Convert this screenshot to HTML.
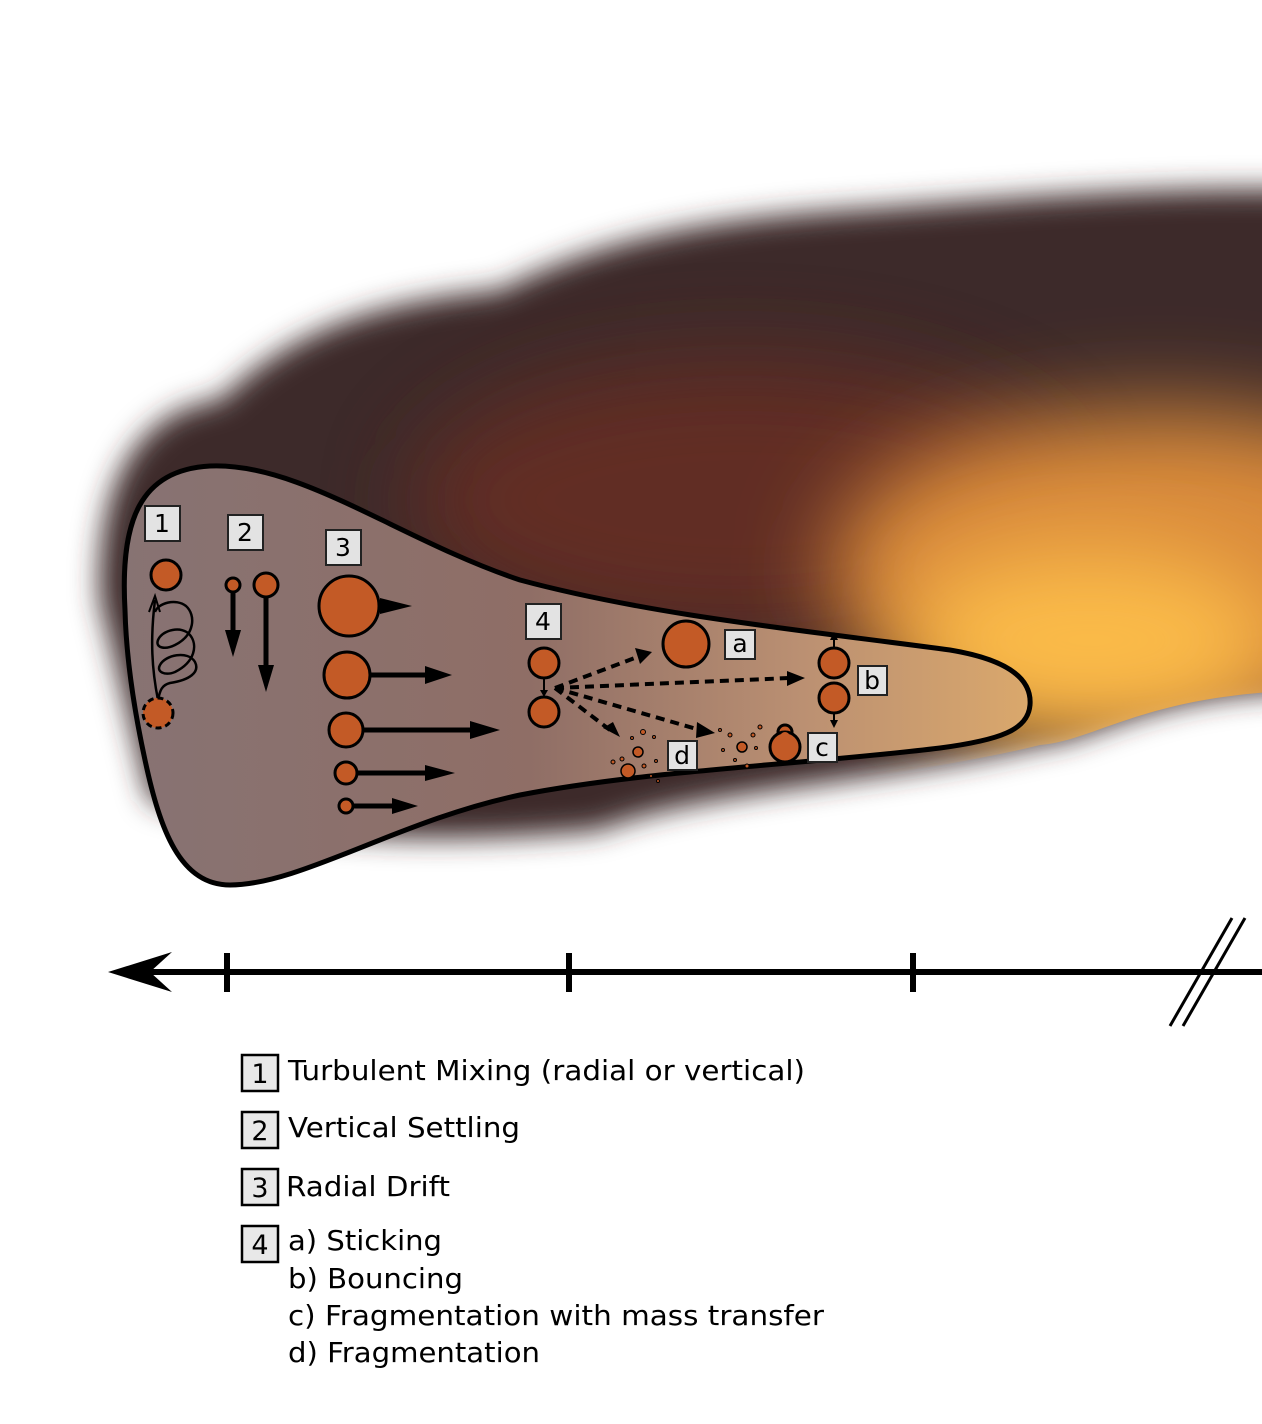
<!DOCTYPE html>
<html><head><meta charset="utf-8"><style>
html,body{margin:0;padding:0;background:#fff;width:1262px;height:1424px;overflow:hidden}
svg{display:block}
text{font-family:"DejaVu Sans","Liberation Sans",sans-serif}
</style></head><body>
<svg width="1262" height="1424" viewBox="0 0 1262 1424" xmlns="http://www.w3.org/2000/svg">
<defs>
<filter id="blur" x="-20%" y="-20%" width="140%" height="140%"><feGaussianBlur stdDeviation="14"/></filter>
<filter id="blur2" x="-50%" y="-50%" width="200%" height="200%"><feGaussianBlur stdDeviation="45"/></filter>
<linearGradient id="disk" x1="120" y1="0" x2="1030" y2="0" gradientUnits="userSpaceOnUse">
<stop offset="0" stop-color="#877373"/><stop offset="0.45" stop-color="#8f6e66"/><stop offset="0.75" stop-color="#bb9072"/><stop offset="1" stop-color="#daa86c"/>
</linearGradient>
<clipPath id="cc"><path d="M100,600 C95,480 140,410 220,400 C300,320 400,300 500,290 C600,240 700,220 850,210 C1000,200 1150,185 1330,190 L1330,690 C1150,690 1100,740 1040,745 C900,780 700,790 600,830 C500,840 300,850 150,800 Z"/></clipPath>
</defs>
<g filter="url(#blur)">
<path d="M100,600 C95,480 140,410 220,400 C300,320 400,300 500,290 C600,240 700,220 850,210 C1000,200 1150,185 1330,190 L1330,690 C1150,690 1100,740 1040,745 C900,780 700,790 600,830 C500,840 300,850 150,800 Z" fill="#3e2c2a"/>
</g>
<g clip-path="url(#cc)">
<ellipse cx="740" cy="500" rx="330" ry="140" fill="#6e2f22" opacity="0.75" filter="url(#blur2)"/>
<ellipse cx="1160" cy="570" rx="330" ry="160" fill="#d98a3a" filter="url(#blur2)"/>
<ellipse cx="1090" cy="640" rx="190" ry="90" fill="#fbbb48" filter="url(#blur2)"/>
</g>
<path d="M125,610 C120,520 140,470 210,466 C300,462 400,540 520,580 C650,615 800,630 950,650 C1010,660 1032,680 1030,705 C1028,730 1000,740 940,748 C800,765 650,770 520,795 C400,820 300,885 230,885 C180,885 160,830 145,760 C132,700 126,650 125,610 Z" fill="url(#disk)" stroke="#000" stroke-width="5"/>
<g font-size="25" text-anchor="middle">
<rect x="145" y="506" width="35" height="35" fill="#e3e3e3" stroke="#222" stroke-width="2"/><text x="162" y="532">1</text>
<rect x="228" y="515" width="35" height="35" fill="#e3e3e3" stroke="#222" stroke-width="2"/><text x="245" y="541">2</text>
<rect x="326" y="530" width="35" height="35" fill="#e3e3e3" stroke="#222" stroke-width="2"/><text x="343" y="556">3</text>
<rect x="526" y="604" width="35" height="35" fill="#e3e3e3" stroke="#222" stroke-width="2"/><text x="543" y="630">4</text>
<rect x="725" y="630" width="30" height="29" fill="#e3e3e3" stroke="#222" stroke-width="2"/><text x="740" y="652">a</text>
<rect x="858" y="666" width="29" height="29" fill="#e3e3e3" stroke="#222" stroke-width="2"/><text x="872" y="689">b</text>
<rect x="808" y="733" width="29" height="29" fill="#e3e3e3" stroke="#222" stroke-width="2"/><text x="822" y="756">c</text>
<rect x="668" y="741" width="29" height="29" fill="#e3e3e3" stroke="#222" stroke-width="2"/><text x="682" y="764">d</text>
</g>
<g fill="none" stroke="#000" stroke-width="2.5">
<path d="M158,700 C160,690 162,685 170,683 C190,680 200,672 195,662 C188,650 165,655 160,665 C156,672 165,676 175,672 C195,662 198,645 190,635 C182,625 162,630 158,640 C155,648 165,650 175,645 C195,635 196,615 186,606 C176,598 158,603 155,612"/>
<path d="M158,700 C152,670 150,640 155,600"/>
</g>
<path d="M149,612 L155,596 L160,612" fill="none" stroke="#000" stroke-width="2"/>
<g fill="#c35a26" stroke="#000" stroke-width="3">
<circle cx="166" cy="575" r="15"/>
<circle cx="158" cy="713" r="15" stroke-dasharray="6,4"/>
<circle cx="233" cy="585" r="7"/>
<circle cx="266" cy="585" r="12"/>
<circle cx="349" cy="606" r="30"/>
<circle cx="347" cy="675" r="23"/>
<circle cx="346" cy="730" r="17"/>
<circle cx="346" cy="773" r="11"/>
<circle cx="346" cy="806" r="7"/>
<circle cx="544" cy="663" r="15"/>
<circle cx="544" cy="712" r="15"/>
<circle cx="686" cy="644" r="23"/>
<circle cx="834" cy="663" r="15"/>
<circle cx="834" cy="698" r="15"/>
<circle cx="785" cy="732" r="7"/>
<circle cx="785" cy="747" r="15"/>
</g>
<circle cx="785" cy="737" r="5" fill="#c35a26"/>
<g fill="#c35a26" stroke="#000" stroke-width="1.5">
<circle cx="638" cy="752" r="5"/>
<circle cx="628" cy="771" r="7"/>
<circle cx="742" cy="747" r="5"/>
</g>
<g fill="#c35a26" stroke="#000" stroke-width="1">
<circle cx="643" cy="732" r="2.5"/><circle cx="654" cy="737" r="1.5"/><circle cx="622" cy="759" r="2"/><circle cx="613" cy="762" r="2"/><circle cx="644" cy="766" r="2"/><circle cx="651" cy="776" r="1.5"/><circle cx="656" cy="761" r="1.5"/><circle cx="632" cy="738" r="1.5"/><circle cx="658" cy="781" r="1.5"/>
<circle cx="730" cy="735" r="2"/><circle cx="753" cy="735" r="2"/><circle cx="760" cy="727" r="2"/><circle cx="747" cy="766" r="2"/><circle cx="723" cy="750" r="1.5"/><circle cx="756" cy="748" r="1.5"/><circle cx="735" cy="760" r="1.5"/><circle cx="720" cy="730" r="1.5"/>
</g>
<g stroke="#000" stroke-width="5" fill="#000">
<line x1="233" y1="592" x2="233" y2="640"/><polygon points="225,630 241,630 233,657" stroke="none"/>
<line x1="266" y1="597" x2="266" y2="675"/><polygon points="258,665 274,665 266,692" stroke="none"/>
<polygon points="380,598 380,614 412,606" stroke="none"/>
<line x1="370" y1="675" x2="435" y2="675"/><polygon points="425,666 425,684 452,675" stroke="none"/>
<line x1="363" y1="730" x2="480" y2="730"/><polygon points="470,721 470,739 500,730" stroke="none"/>
<line x1="357" y1="773" x2="435" y2="773"/><polygon points="425,765 425,781 455,773" stroke="none"/>
<line x1="353" y1="806" x2="400" y2="806"/><polygon points="392,798 392,814 418,806" stroke="none"/>
</g>
<line x1="544" y1="678" x2="544" y2="692" stroke="#000" stroke-width="2"/><polygon points="540,690 548,690 544,697"/>
<g stroke="#000" stroke-width="4" stroke-dasharray="9,6" fill="none">
<line x1="555" y1="688" x2="640" y2="656"/>
<line x1="555" y1="688" x2="790" y2="678"/>
<line x1="555" y1="688" x2="700" y2="730"/>
<line x1="555" y1="688" x2="610" y2="730"/>
</g>
<g fill="#000">
<polygon points="635,648 652,652 640,664"/>
<polygon points="787,671 805,678 787,686"/>
<polygon points="697,722 715,733 696,738"/>
<polygon points="603,728 620,737 613,722"/>
<line x1="834" y1="648" x2="834" y2="638" stroke="#000" stroke-width="2"/><polygon points="830,640 838,640 834,632"/>
<line x1="834" y1="713" x2="834" y2="722" stroke="#000" stroke-width="2"/><polygon points="830,720 838,720 834,728"/>
</g>
<line x1="150" y1="972" x2="1262" y2="972" stroke="#000" stroke-width="6"/>
<polygon points="108,972 172,952 150,972 172,992" fill="#000"/>
<g stroke="#000" stroke-width="6">
<line x1="227" y1="953" x2="227" y2="992"/><line x1="569" y1="953" x2="569" y2="992"/><line x1="913" y1="953" x2="913" y2="992"/>
</g>
<g stroke="#000" stroke-width="3"><line x1="1170" y1="1026" x2="1232" y2="918"/><line x1="1183" y1="1026" x2="1245" y2="918"/></g>
<g font-size="28">
<g font-size="27" text-anchor="middle">
<rect x="242" y="1055" width="36" height="36" fill="#e8e8e8" stroke="#000" stroke-width="2.5"/><text x="260" y="1083">1</text>
<rect x="242" y="1112" width="36" height="36" fill="#e8e8e8" stroke="#000" stroke-width="2.5"/><text x="260" y="1140">2</text>
<rect x="242" y="1169" width="36" height="36" fill="#e8e8e8" stroke="#000" stroke-width="2.5"/><text x="260" y="1197">3</text>
<rect x="242" y="1226" width="36" height="36" fill="#e8e8e8" stroke="#000" stroke-width="2.5"/><text x="260" y="1254">4</text>
</g>
<text x="288" y="1080" textLength="517" lengthAdjust="spacingAndGlyphs">Turbulent Mixing (radial or vertical)</text>
<text x="288" y="1137" textLength="232" lengthAdjust="spacingAndGlyphs">Vertical Settling</text>
<text x="286" y="1196" textLength="164" lengthAdjust="spacingAndGlyphs">Radial Drift</text>
<text x="288" y="1250" textLength="154" lengthAdjust="spacingAndGlyphs">a) Sticking</text>
<text x="288" y="1288" textLength="175" lengthAdjust="spacingAndGlyphs">b) Bouncing</text>
<text x="288" y="1325" textLength="536" lengthAdjust="spacingAndGlyphs">c) Fragmentation with mass transfer</text>
<text x="288" y="1362" textLength="252" lengthAdjust="spacingAndGlyphs">d) Fragmentation</text>
</g>
</svg>
</body></html>
